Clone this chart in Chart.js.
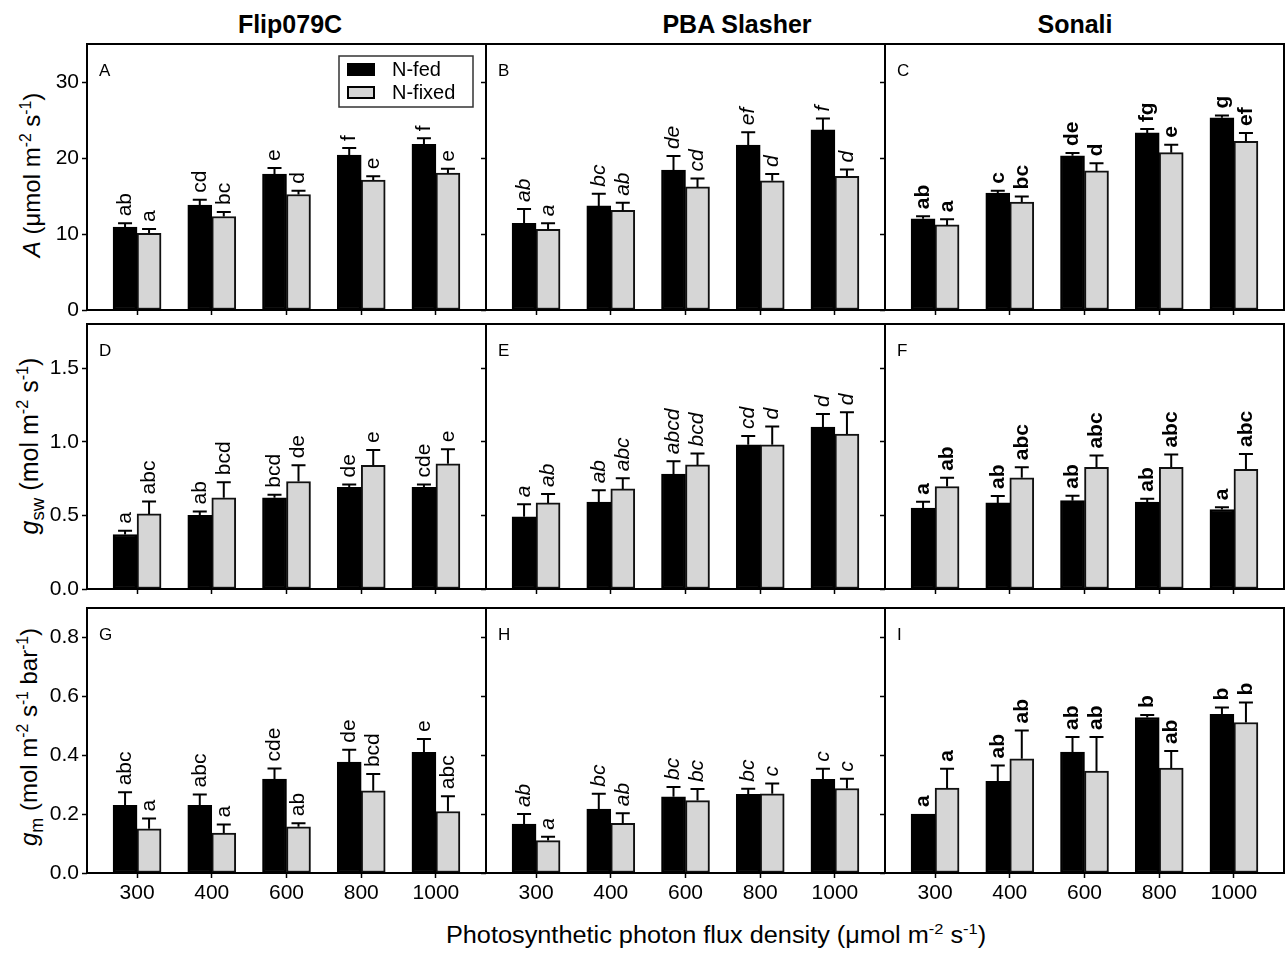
<!DOCTYPE html>
<html lang="en">
<head>
  <meta charset="UTF-8" />
  <title>Leaf gas exchange vs PPFD</title>
  <style>
    * { margin: 0; padding: 0; box-sizing: border-box; }
    body {
      width: 1285px;
      height: 954px;
      position: relative;
      overflow: hidden;
      background: #fff;
      color: #000;
      font-family: "Liberation Sans", Arial, sans-serif;
    }
    canvas { position: absolute; }
    .col-title {
      position: absolute;
      font-size: 25px;
      font-weight: bold;
      white-space: nowrap;
      transform: translate(-50%, -50%);
    }
    .y-title {
      position: absolute;
      font-size: 24px;
      white-space: nowrap;
      transform: translate(-50%, -50%) rotate(-90deg);
    }
    .x-title {
      position: absolute;
      font-size: 23px;
      white-space: nowrap;
      transform: translate(-50%, -50%) scaleX(1.1);
    }
    sup { font-size: 65%; line-height: 0; }
    sub { font-size: 75%; line-height: 0; }
  </style>
</head>
<body>
  <div class="col-title" style="left:290px; top:24px;">Flip079C</div>
  <div class="col-title" style="left:737px; top:24px;">PBA Slasher</div>
  <div class="col-title" style="left:1075px; top:24px;">Sonali</div>

  <div class="y-title" style="left:32px; top:175px;"><i>A</i> (μmol m<sup>-2</sup> s<sup>-1</sup>)</div>
  <div class="y-title" style="left:29px; top:446px; font-size:25px;"><i>g</i><sub>sw</sub> (mol m<sup>-2</sup> s<sup>-1</sup>)</div>
  <div class="y-title" style="left:29px; top:737px;"><i>g</i><sub>m</sub> (mol m<sup>-2</sup> s<sup>-1</sup> bar<sup>-1</sup>)</div>

  <div class="x-title" style="left:716px; top:935px;">Photosynthetic photon flux density (μmol m<sup>-2</sup> s<sup>-1</sup>)</div>

  <script src="https://cdn.jsdelivr.net/npm/chart.js"></script>
  <script>
    // ---- data ----
    const ppfd = ['300', '400', '600', '800', '1000'];
    const seriesNames = ['N-fed', 'N-fixed'];
    const panelLetters = ['A', 'B', 'C', 'D', 'E', 'F', 'G', 'H', 'I'];

    // net assimilation A, one row per cultivar (Flip079C, PBA Slasher, Sonali)
    const aFed    = [[10.9, 13.8, 17.9, 20.4, 21.8], [11.4, 13.7, 18.4, 21.7, 23.7], [12.0, 15.4, 20.3, 23.3, 25.3]];
    const aFedErr = [[0.5, 0.7, 0.8, 0.9, 0.8], [1.9, 1.6, 1.85, 1.7, 1.5], [0.35, 0.3, 0.35, 0.5, 0.3]];
    const aFix    = [[10.1, 12.3, 15.2, 17.1, 18.0], [10.6, 13.1, 16.2, 17.0, 17.6], [11.2, 14.2, 18.3, 20.7, 22.2]];
    const aFixErr = [[0.55, 0.6, 0.5, 0.5, 0.6], [0.8, 1.0, 1.1, 0.9, 0.9], [0.75, 0.75, 1.0, 1.05, 1.1]];
    const aFedLet = [['ab', 'cd', 'e', 'f', 'f'], ['ab', 'bc', 'de', 'ef', 'f'], ['ab', 'c', 'de', 'fg', 'g']];
    const aFixLet = [['a', 'bc', 'd', 'e', 'e'], ['a', 'ab', 'cd', 'd', 'd'], ['a', 'bc', 'd', 'e', 'ef']];

    // stomatal conductance gsw
    const gswFed    = [[0.37, 0.50, 0.62, 0.69, 0.69], [0.49, 0.59, 0.78, 0.98, 1.10], [0.55, 0.585, 0.60, 0.59, 0.54]];
    const gswFedErr = [[0.025, 0.027, 0.02, 0.02, 0.02], [0.085, 0.08, 0.088, 0.06, 0.088], [0.043, 0.047, 0.034, 0.023, 0.016]];
    const gswFix    = [[0.51, 0.62, 0.73, 0.84, 0.85], [0.585, 0.68, 0.843, 0.98, 1.053], [0.696, 0.755, 0.827, 0.827, 0.813]];
    const gswFixErr = [[0.085, 0.105, 0.11, 0.105, 0.10], [0.06, 0.072, 0.078, 0.124, 0.147], [0.059, 0.072, 0.079, 0.086, 0.104]];
    const gswFedLet = [['a', 'ab', 'bcd', 'de', 'cde'], ['a', 'ab', 'abcd', 'cd', 'd'], ['a', 'ab', 'ab', 'ab', 'a']];
    const gswFixLet = [['abc', 'bcd', 'de', 'e', 'e'], ['ab', 'abc', 'bcd', 'd', 'd'], ['ab', 'abc', 'abc', 'abc', 'abc']];

    // mesophyll conductance gm
    const gmFed    = [[0.23, 0.23, 0.319, 0.377, 0.41], [0.166, 0.217, 0.259, 0.267, 0.318], [0.20, 0.311, 0.411, 0.528, 0.539]];
    const gmFedErr = [[0.044, 0.037, 0.036, 0.042, 0.045], [0.034, 0.052, 0.033, 0.019, 0.036], [0, 0.054, 0.051, 0.009, 0.023]];
    const gmFix    = [[0.15, 0.136, 0.157, 0.279, 0.209], [0.11, 0.169, 0.246, 0.269, 0.287], [0.288, 0.388, 0.346, 0.356, 0.511]];
    const gmFixErr = [[0.035, 0.029, 0.012, 0.057, 0.052], [0.013, 0.034, 0.039, 0.035, 0.033], [0.066, 0.096, 0.116, 0.058, 0.068]];
    const gmFedLet = [['abc', 'abc', 'cde', 'de', 'e'], ['ab', 'bc', 'bc', 'bc', 'c'], ['a', 'ab', 'ab', 'b', 'b']];
    const gmFixLet = [['a', 'a', 'ab', 'bcd', 'abc'], ['a', 'ab', 'bc', 'c', 'c'], ['a', 'ab', 'ab', 'ab', 'b']];

    const yTicksA = [0, 10, 20, 30];
    const yTicksGsw = [0, 0.5, 1.0, 1.5];
    const yTicksGm = [0, 0.2, 0.4, 0.6, 0.8];

    // ---- layout ----
    const FONT = '"Liberation Sans", Arial, sans-serif';
    const colLeft = [87, 486, 885];
    const panelW = 399;
    const padL = 60, padT = 20, padR = 10, padB = 40;
    const letterStyle = ['', 'italic ', 'bold '];

    const rows = [
      { fed: aFed, fedErr: aFedErr, fix: aFix, fixErr: aFixErr, fedLet: aFedLet, fixLet: aFixLet, max: 35, ticks: yTicksA, dec: 0, top: 44, h: 266 },
      { fed: gswFed, fedErr: gswFedErr, fix: gswFix, fixErr: gswFixErr, fedLet: gswFedLet, fixLet: gswFixLet, max: 1.8, ticks: yTicksGsw, dec: 1, top: 324, h: 265 },
      { fed: gmFed, fedErr: gmFedErr, fix: gmFix, fixErr: gmFixErr, fedLet: gmFedLet, fixLet: gmFixLet, max: 0.9, ticks: yTicksGm, dec: 1, top: 608, h: 265 }
    ];

    // error bars, letters, frame, panel letter and legend
    const panelDeco = {
      id: 'panelDeco',
      afterDatasetsDraw(chart, args, o) {
        const ctx = chart.ctx;
        const y = chart.scales.y;
        const errs = [o.fedErr, o.fixErr];
        const lets = [o.fedLet, o.fixLet];
        ctx.save();
        chart.data.datasets.forEach((ds, d) => {
          chart.getDatasetMeta(d).data.forEach((bar, i) => {
            const v = ds.data[i].y;
            const e = errs[d][i];
            const yTop = y.getPixelForValue(v);
            const yCap = y.getPixelForValue(v + e);
            if (e > 0) {
              ctx.strokeStyle = '#000';
              ctx.lineWidth = 2;
              ctx.beginPath();
              ctx.moveTo(bar.x, yTop);
              ctx.lineTo(bar.x, yCap);
              ctx.moveTo(bar.x - 7, yCap);
              ctx.lineTo(bar.x + 7, yCap);
              ctx.stroke();
            }
            ctx.save();
            ctx.translate(bar.x, yCap - 7);
            ctx.rotate(-Math.PI / 2);
            ctx.font = letterStyle[o.col] + '21px ' + FONT;
            ctx.fillStyle = '#000';
            ctx.textAlign = 'left';
            ctx.textBaseline = 'middle';
            ctx.fillText(lets[d][i], 0, 0);
            ctx.restore();
          });
        });
        ctx.restore();
      },
      afterDraw(chart, args, o) {
        const ctx = chart.ctx;
        const a = chart.chartArea;
        ctx.save();
        ctx.strokeStyle = '#000';
        ctx.lineWidth = 2;
        ctx.strokeRect(a.left, a.top, a.right - a.left, a.bottom - a.top);

        ctx.fillStyle = '#000';
        ctx.font = '17px ' + FONT;
        ctx.textAlign = 'left';
        ctx.textBaseline = 'alphabetic';
        ctx.fillText(o.letter, a.left + 12, a.top + 32);

        if (o.legend) {
          const lx = a.left + 252, ly = a.top + 12;
          ctx.strokeStyle = '#333';
          ctx.lineWidth = 1.5;
          ctx.strokeRect(lx, ly, 134, 51);
          chart.data.datasets.forEach((ds, d) => {
            const sy = ly + 7 + d * 23;
            ctx.fillStyle = ds.backgroundColor;
            ctx.fillRect(lx + 8, sy, 28, 13);
            ctx.strokeStyle = '#000';
            ctx.lineWidth = 2;
            ctx.strokeRect(lx + 9, sy + 1, 26, 11);
            ctx.fillStyle = '#000';
            ctx.font = '20px ' + FONT;
            ctx.textBaseline = 'middle';
            ctx.fillText(ds.label, lx + 53, sy + 7);
          });
        }
        ctx.restore();
      }
    };

    rows.forEach((row, r) => {
      for (let c = 0; c < 3; c++) {
        const canvas = document.createElement('canvas');
        const w = padL + panelW + padR;
        const h = padT + row.h + padB;
        canvas.width = w;
        canvas.height = h;
        canvas.style.left = (colLeft[c] - padL) + 'px';
        canvas.style.top = (row.top - padT) + 'px';
        document.body.appendChild(canvas);

        const fedPts = row.fed[c].map((v, i) => ({ x: i, y: v }));
        const fixPts = row.fix[c].map((v, i) => ({ x: i, y: v }));

        new Chart(canvas.getContext('2d'), {
          type: 'bar',
          data: {
            datasets: [
              { label: seriesNames[0], data: fedPts, backgroundColor: '#000000', borderColor: '#000000', borderWidth: 2, borderSkipped: false, barThickness: 24 },
              { label: seriesNames[1], data: fixPts, backgroundColor: '#d6d6d6', borderColor: '#111111', borderWidth: 2, borderSkipped: false, barThickness: 24 }
            ]
          },
          options: {
            responsive: false,
            animation: false,
            devicePixelRatio: 1,
            layout: { padding: { left: 0, top: padT, right: padR, bottom: 0 } },
            plugins: {
              legend: { display: false },
              tooltip: { enabled: false },
              panelDeco: {
                col: c,
                letter: panelLetters[r * 3 + c],
                legend: r === 0 && c === 0,
                fedErr: row.fedErr[c], fixErr: row.fixErr[c],
                fedLet: row.fedLet[c], fixLet: row.fixLet[c]
              }
            },
            scales: {
              x: {
                type: 'linear',
                min: -0.67,
                max: 4.67,
                offset: false,
                afterBuildTicks: (s) => { s.ticks = ppfd.map((_, i) => ({ value: i })); },
                afterFit: (s) => { s.height = padB; },
                grid: { drawOnChartArea: false, drawTicks: true, tickLength: 5, tickColor: '#000', tickWidth: 1.5, offset: false },
                border: { display: false },
                ticks: {
                  display: r === 2,
                  autoSkip: false,
                  maxRotation: 0,
                  padding: 3,
                  color: '#000',
                  font: { family: FONT, size: 21 },
                  callback: (v) => ppfd[v]
                }
              },
              y: {
                min: 0,
                max: row.max,
                afterBuildTicks: (s) => { s.ticks = row.ticks.map(v => ({ value: v })); },
                afterFit: (s) => { s.width = padL; },
                grid: { drawOnChartArea: false, drawTicks: true, tickLength: 5, tickColor: '#000', tickWidth: 1.5 },
                border: { display: false },
                ticks: {
                  display: c === 0,
                  padding: 3,
                  color: '#000',
                  font: { family: FONT, size: 21 },
                  callback: (v) => row.dec ? v.toFixed(row.dec) : String(v)
                }
              }
            }
          },
          plugins: [panelDeco]
        });
      }
    });
  </script>
</body>
</html>
